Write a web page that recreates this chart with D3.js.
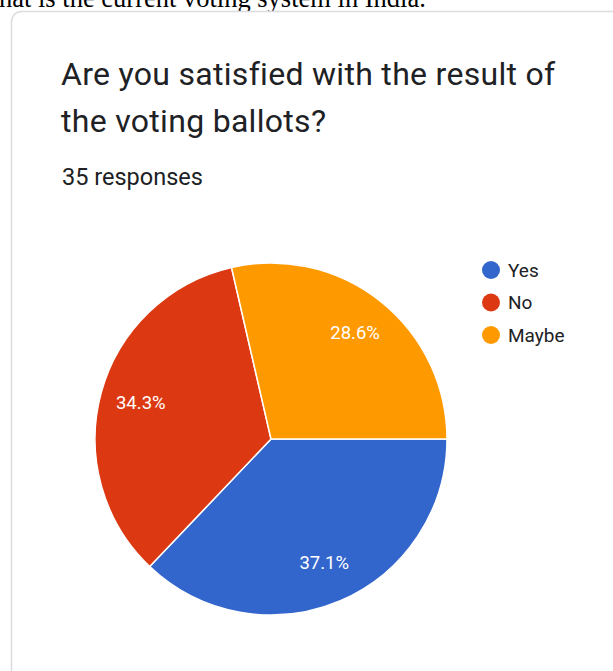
<!DOCTYPE html>
<html><head><meta charset="utf-8">
<script src="https://cdn.jsdelivr.net/npm/d3@7"></script>
<style>body{margin:0;background:#fff;overflow:hidden}svg{display:block}</style>
</head><body>
<script>
const categories = ["Yes", "No", "Maybe"];
const values = [37.1, 34.3, 28.6];
const colors = ["#3366CC", "#DC3912", "#FF9900"];
const labels = ["37.1%", "34.3%", "28.6%"];
const title = ["Are you satisfied with the result of", "the voting ballots?"];
const subtitle = "35 responses";
const topText = "hat is the current voting system in India.";

const W = 613, H = 671;
const svg = d3.select("body").append("svg").attr("width", W).attr("height", H);

svg.append("text").attr("x", -1).attr("y", 6.5)
  .attr("font-family", "Liberation Serif, Times New Roman, serif")
  .attr("font-size", 26.5).attr("fill", "#000").text(topText);

svg.append("rect").attr("x", 11.5).attr("y", 11.5).attr("width", W + 20).attr("height", H + 20)
  .attr("rx", 10).attr("fill", "#fff").attr("stroke", "#dadce0").attr("stroke-width", 1.5);

const tg = svg.append("g").attr("font-family", "Roboto, 'Noto Sans', sans-serif").attr("fill", "#202124");
title.forEach((t, i) => tg.append("text").attr("x", 61).attr("y", 85 + i * 47)
  .attr("font-size", 32).attr("letter-spacing", 0.3).text(t));
tg.append("text").attr("x", 62).attr("y", 185).attr("font-size", 23.5).text(subtitle);

const cx = 271, cy = 439, R = 176;
const pie = d3.pie().sort(null).value(d => d)
  .startAngle(Math.PI / 2).endAngle(Math.PI / 2 + 2 * Math.PI);
const arcs = pie(values);
const arc = d3.arc().innerRadius(0).outerRadius(R);
const labelArc = d3.arc().innerRadius(135).outerRadius(135);
const g = svg.append("g").attr("transform", `translate(${cx},${cy})`);
g.selectAll("path").data(arcs).join("path")
  .attr("d", arc).attr("fill", (d, i) => colors[i])
  .attr("stroke", "#fff").attr("stroke-width", 1.5);
g.selectAll("text").data(arcs).join("text")
  .attr("transform", d => `translate(${labelArc.centroid(d)})`)
  .attr("text-anchor", "middle").attr("dominant-baseline", "central")
  .attr("font-family", "Roboto, 'Noto Sans', sans-serif").attr("font-size", 18.5)
  .attr("fill", "#fff").text((d, i) => labels[i]);

const lg = svg.append("g").attr("font-family", "Roboto, 'Noto Sans', sans-serif");
categories.forEach((c, i) => {
  const y = 270 + i * 32.5;
  lg.append("circle").attr("cx", 491).attr("cy", y).attr("r", 9).attr("fill", colors[i]);
  lg.append("text").attr("x", 508).attr("y", y).attr("dominant-baseline", "central")
    .attr("font-size", 19).attr("fill", "#202124").text(c);
});
</script>
</body></html>
